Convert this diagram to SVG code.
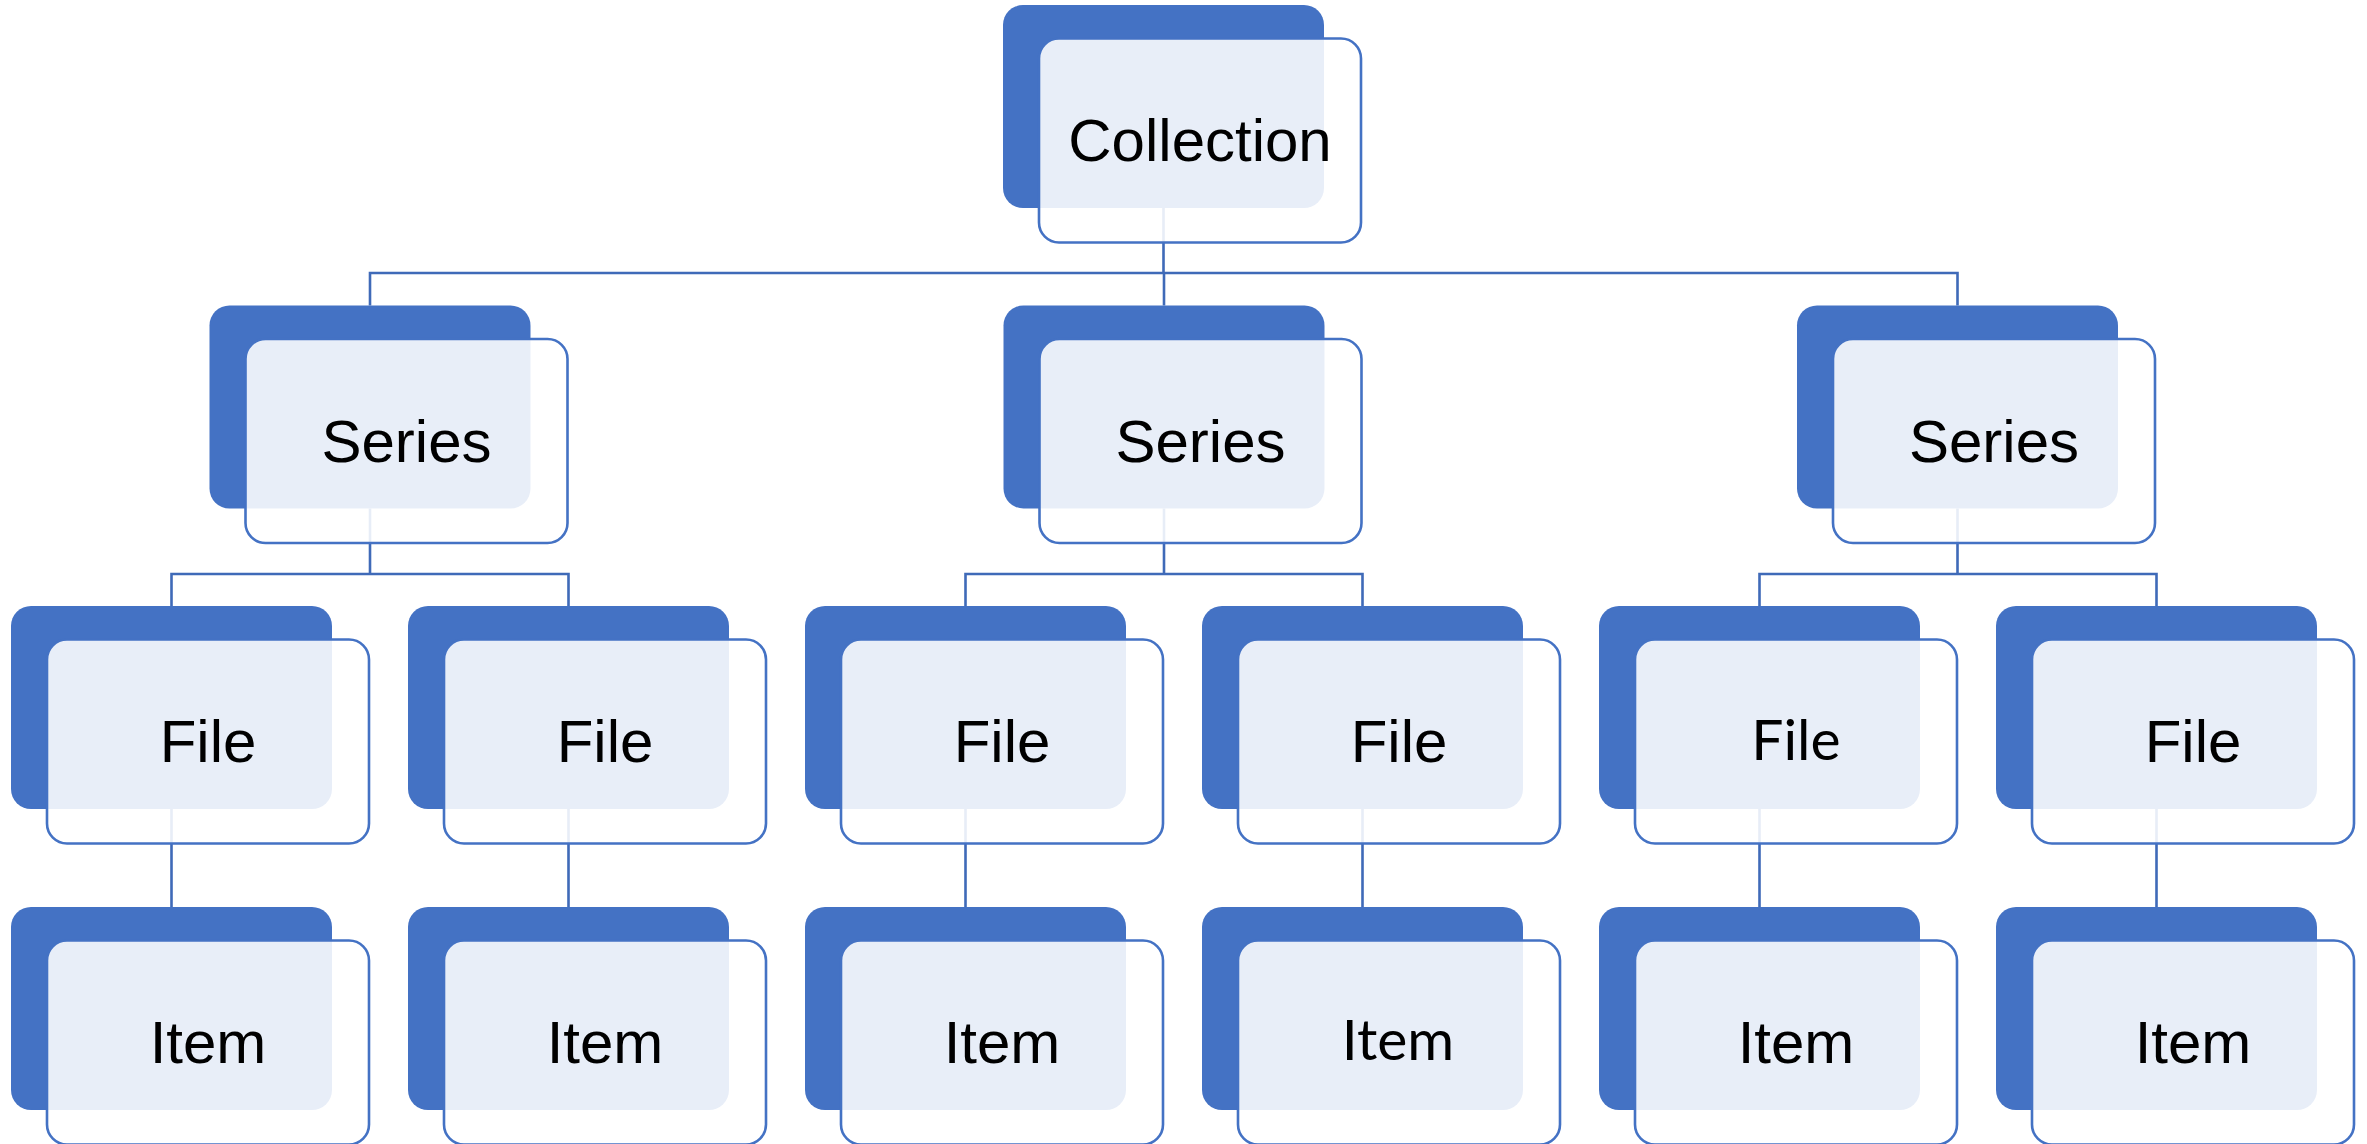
<svg xmlns="http://www.w3.org/2000/svg" width="2367" height="1144" viewBox="0 0 2367 1144">
<style>
.back{fill:#4472C4}
.front{fill:#FFFFFF;fill-opacity:0.88;stroke:#4472C4;stroke-width:2.6}
.lbl{font-family:"Liberation Sans",Arial,sans-serif;font-size:60px;fill:#000000;text-anchor:middle}
.alt{font-family:Lato,"Open Sans",sans-serif;font-size:57px;fill:#000000;text-anchor:middle}
.conn{fill:none;stroke:#3F6AB8;stroke-width:2.6}
</style>
<rect width="2367" height="1144" fill="#FFFFFF"/>
<g id="connectors" class="conn">
<path d="M1163.5 208 V273 M370 305.5 V273 H1957.5 V305.5 M1164 273 V305.5"/>
<path d="M370 508.5 V574 M171.5 606 V574 H568.5 V606"/>
<path d="M1164 508.5 V574 M965.5 606 V574 H1362.5 V606"/>
<path d="M1957.5 508.5 V574 M1759.5 606 V574 H2156.5 V606"/>
<path d="M171.5 809 V907 M568.5 809 V907 M965.5 809 V907 M1362.5 809 V907 M1759.5 809 V907 M2156.5 809 V907"/>
</g>
<g id="collection"><rect class="back" x="1003" y="5" width="321" height="203" rx="20"/><rect class="front" x="1039" y="38.5" width="322" height="204" rx="20"/><text class="lbl" x="1200" y="161">Collection</text></g>
<g id="series1"><rect class="back" x="209.5" y="305.5" width="321" height="203" rx="20"/><rect class="front" x="245.5" y="339" width="322" height="204" rx="20"/><text class="lbl" x="406.5" y="461.5">Series</text></g>
<g id="series2"><rect class="back" x="1003.5" y="305.5" width="321" height="203" rx="20"/><rect class="front" x="1039.5" y="339" width="322" height="204" rx="20"/><text class="lbl" x="1200.5" y="461.5">Series</text></g>
<g id="series3"><rect class="back" x="1797" y="305.5" width="321" height="203" rx="20"/><rect class="front" x="1833" y="339" width="322" height="204" rx="20"/><text class="lbl" x="1994" y="461.5">Series</text></g>
<g id="file1"><rect class="back" x="11" y="606" width="321" height="203" rx="20"/><rect class="front" x="47" y="639.5" width="322" height="204" rx="20"/><text class="lbl" x="208" y="762">File</text></g>
<g id="file2"><rect class="back" x="408" y="606" width="321" height="203" rx="20"/><rect class="front" x="444" y="639.5" width="322" height="204" rx="20"/><text class="lbl" x="605" y="762">File</text></g>
<g id="file3"><rect class="back" x="805" y="606" width="321" height="203" rx="20"/><rect class="front" x="841" y="639.5" width="322" height="204" rx="20"/><text class="lbl" x="1002" y="762">File</text></g>
<g id="file4"><rect class="back" x="1202" y="606" width="321" height="203" rx="20"/><rect class="front" x="1238" y="639.5" width="322" height="204" rx="20"/><text class="lbl" x="1399" y="762">File</text></g>
<g id="file5"><rect class="back" x="1599" y="606" width="321" height="203" rx="20"/><rect class="front" x="1635" y="639.5" width="322" height="204" rx="20"/><text class="alt" x="1796" y="759.5">File</text></g>
<g id="file6"><rect class="back" x="1996" y="606" width="321" height="203" rx="20"/><rect class="front" x="2032" y="639.5" width="322" height="204" rx="20"/><text class="lbl" x="2193" y="762">File</text></g>
<g id="item1"><rect class="back" x="11" y="907" width="321" height="203" rx="20"/><rect class="front" x="47" y="940.5" width="322" height="204" rx="20"/><text class="lbl" x="208" y="1063">Item</text></g>
<g id="item2"><rect class="back" x="408" y="907" width="321" height="203" rx="20"/><rect class="front" x="444" y="940.5" width="322" height="204" rx="20"/><text class="lbl" x="605" y="1063">Item</text></g>
<g id="item3"><rect class="back" x="805" y="907" width="321" height="203" rx="20"/><rect class="front" x="841" y="940.5" width="322" height="204" rx="20"/><text class="lbl" x="1002" y="1063">Item</text></g>
<g id="item4"><rect class="back" x="1202" y="907" width="321" height="203" rx="20"/><rect class="front" x="1238" y="940.5" width="322" height="204" rx="20"/><text class="alt" x="1398" y="1060">Item</text></g>
<g id="item5"><rect class="back" x="1599" y="907" width="321" height="203" rx="20"/><rect class="front" x="1635" y="940.5" width="322" height="204" rx="20"/><text class="lbl" x="1796" y="1063">Item</text></g>
<g id="item6"><rect class="back" x="1996" y="907" width="321" height="203" rx="20"/><rect class="front" x="2032" y="940.5" width="322" height="204" rx="20"/><text class="lbl" x="2193" y="1063">Item</text></g>
</svg>
